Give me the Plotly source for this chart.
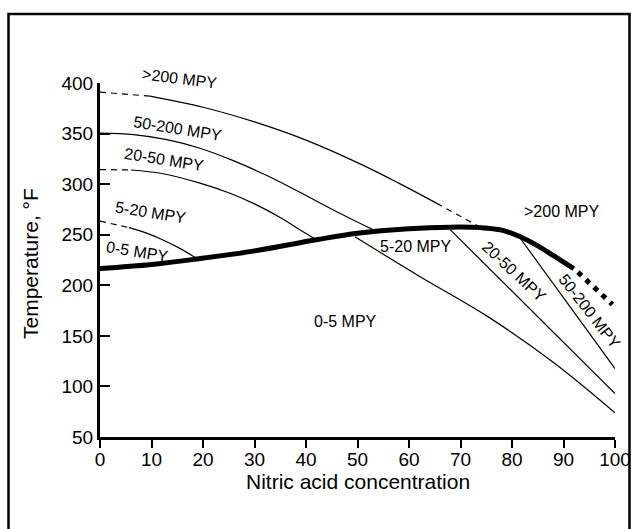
import plotly.graph_objects as go

# ---- data (nitric acid concentration %, temperature °F) ----
# iso-corrosion boundary curves starting from the temperature axis
top_dash_x = [0, 9.7]
top_dash_y = [391, 387]
top_x = [9.7, 20, 30, 40, 50.5, 58, 65.4]
top_y = [387, 376, 361.5, 343.5, 320, 301, 281]
top_end_x = [65.4, 73.8]
top_end_y = [281, 257.5]

c2_x = [0, 6.5, 13, 19.4, 26, 32.4, 38.8, 45.5, 53]
c2_y = [350.5, 349, 344, 335.5, 323, 308.5, 292, 274, 255]

c3_dash_x = [0, 6]
c3_dash_y = [314.4, 314]
c3_x = [6, 12, 19.4, 25, 30, 35, 38.8, 42]
c3_y = [314, 310.5, 301, 291.5, 280.5, 267, 255, 245]

c4_dash_x = [0, 5.6]
c4_dash_y = [263.5, 257]
c4_x = [5.6, 8.5, 11.7, 15.5, 18.8]
c4_y = [257, 252.5, 246, 236.5, 226.5]

# boundaries below the boiling curve
l1_x = [49.5, 62, 75, 88, 100]
l1_y = [248, 209, 170, 124, 74]
l2_x = [68, 100]
l2_y = [255, 93]
l3_x = [81.6, 100]
l3_y = [246.5, 117.6]

# boiling curve (thick) and its dotted extension
boil_x = [0, 10, 18.8, 30, 42, 50, 60, 68, 74, 78, 81.6, 85, 88, 92]
boil_y = [216.5, 220.5, 226, 234, 245, 251.5, 256, 257.5, 257, 254.5, 248, 239, 229.5, 216.5]
boil_dot_x = [92.8, 99.5]
boil_dot_y = [213, 181]

# region labels: text, x, y, angle
lab_text = [">200 MPY", "50-200 MPY", "20-50 MPY", "5-20 MPY", "0-5 MPY",
            "0-5 MPY", "5-20 MPY", ">200 MPY", "20-50 MPY", "50-200 MPY"]
lab_x = [15.5, 15.0, 12.4, 9.9, 7.2, 47.6, 61.2, 89.7, 80.4, 95.1]
lab_y = [404.5, 355, 324.5, 272, 233.5, 164, 238.5, 273, 213.8, 174.3]
lab_ang = [7, 9, 9, 9, 9, 0, 0, 0, 43, 52]

x_ticks = [0, 10, 20, 30, 40, 50, 60, 70, 80, 90, 100]
y_ticks = [50, 100, 150, 200, 250, 300, 350, 400]

X_RANGE = [0, 100]
Y_RANGE = [50, 400]

FONT = "Liberation Sans, Arial, Helvetica, sans-serif"

fig = go.Figure()


def add_line(x, y, width=1.2, dash="solid"):
    fig.add_trace(go.Scatter(
        x=x, y=y, mode="lines",
        line=dict(color="black", width=width, dash=dash, shape="spline"),
        hoverinfo="skip", showlegend=False))


DASH = "6px,5px"
add_line(top_dash_x, top_dash_y, dash=DASH)
add_line(top_x, top_y)
add_line(top_end_x, top_end_y, dash=DASH)
add_line(c2_x, c2_y)
add_line(c3_dash_x, c3_dash_y, dash=DASH)
add_line(c3_x, c3_y)
add_line(c4_dash_x, c4_dash_y, dash=DASH)
add_line(c4_x, c4_y)
add_line(l1_x, l1_y)
add_line(l2_x, l2_y)
add_line(l3_x, l3_y)
add_line(boil_x, boil_y, width=5)
add_line(boil_dot_x, boil_dot_y, width=5, dash="5px,6px")

for t, x, y, a in zip(lab_text, lab_x, lab_y, lab_ang):
    # place in paper coordinates so labels outside the axis range still show
    px = (x - X_RANGE[0]) / (X_RANGE[1] - X_RANGE[0])
    py = (y - Y_RANGE[0]) / (Y_RANGE[1] - Y_RANGE[0])
    fig.add_annotation(x=px, y=py, xref="paper", yref="paper", text=t, showarrow=False,
                       textangle=a, xanchor="center", yanchor="middle",
                       font=dict(family=FONT, size=16, color="black"))

# axis titles
fig.add_annotation(x=0.5, y=(437 - 481) / 354, xref="paper", yref="paper",
                   text="Nitric acid concentration", showarrow=False,
                   xanchor="center", yanchor="middle",
                   font=dict(family=FONT, size=21, color="black"))
fig.add_annotation(x=(30 - 100) / 515, y=(437 - 264) / 354, xref="paper", yref="paper",
                   text="Temperature, °F", showarrow=False, textangle=-90,
                   xanchor="center", yanchor="middle",
                   font=dict(family=FONT, size=21, color="black"))

# outer frame
fig.add_shape(type="rect", xref="paper", yref="paper",
              x0=(8.5 - 100) / 515, x1=(629.5 - 100) / 515,
              y0=(437 - 545) / 354, y1=(437 - 14) / 354,
              line=dict(color="black", width=2.5))

fig.update_xaxes(range=X_RANGE, tickvals=x_ticks, ticks="outside", ticklen=8,
                 tickwidth=1.5, tickcolor="black", showline=True, linewidth=3,
                 linecolor="black", showgrid=False, zeroline=False, automargin=False,
                 ticklabelstandoff=-5,
                 tickfont=dict(family=FONT, size=19, color="black"))
fig.update_yaxes(range=Y_RANGE, tickvals=y_ticks, ticks="inside", ticklen=10,
                 tickwidth=1.5, tickcolor="black", showline=True, linewidth=3,
                 linecolor="black", showgrid=False, zeroline=False, automargin=False,
                 tickfont=dict(family=FONT, size=19, color="black"))

fig.update_layout(width=632, height=529, margin=dict(l=100, r=17, t=83, b=92),
                  paper_bgcolor="white", plot_bgcolor="white", showlegend=False)

fig.write_html("out.html")
